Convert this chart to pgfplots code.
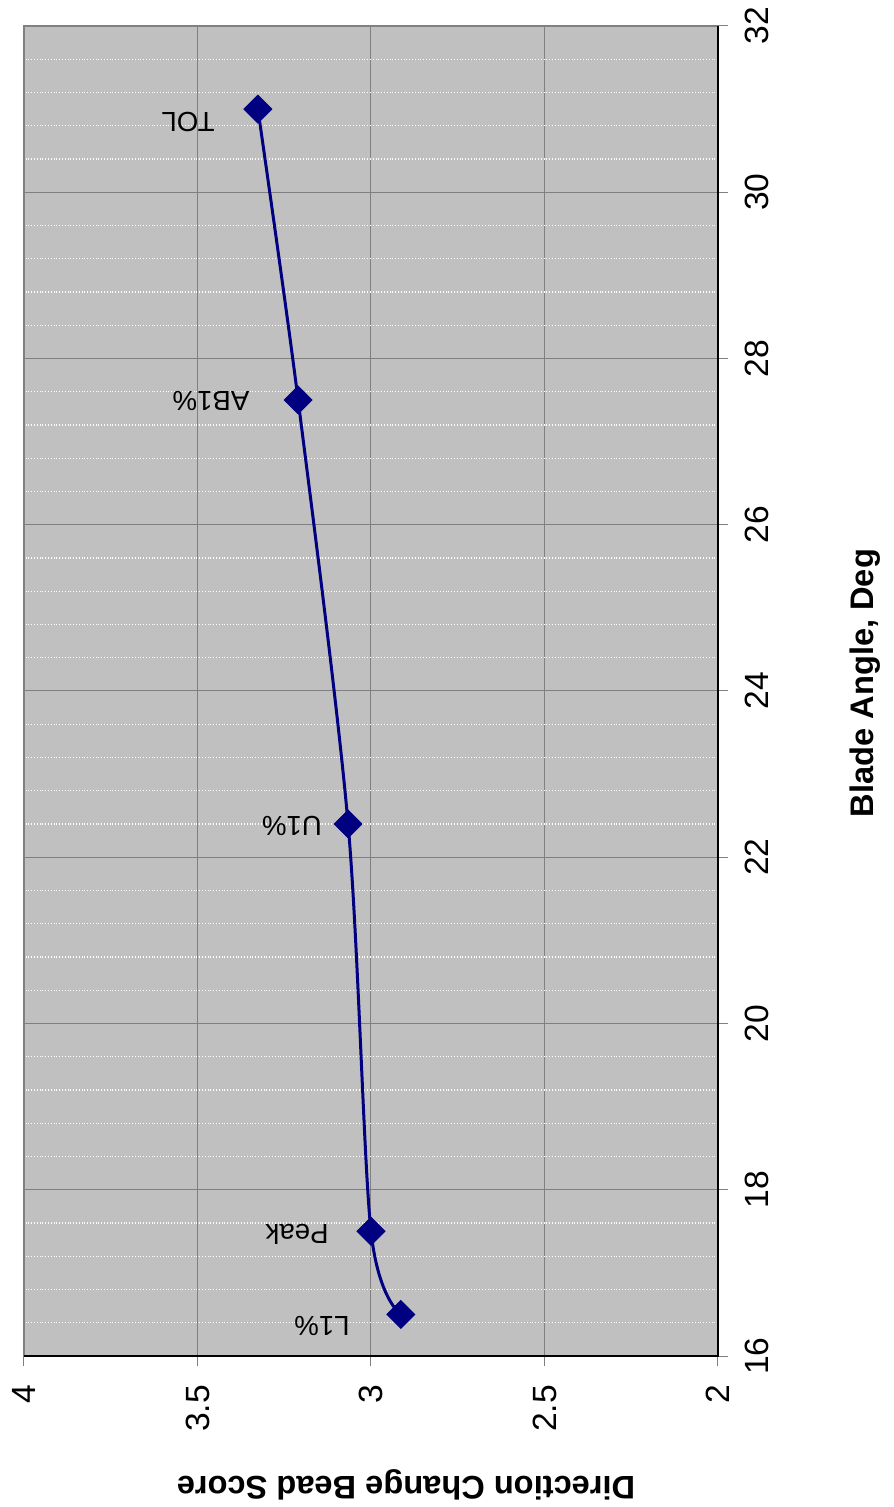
\documentclass[border=0pt]{standalone}
\usepackage{fontspec}
\setmainfont{Liberation Sans}
\usepackage{pgfplots}
\pgfplotsset{compat=1.18}
\definecolor{plotbg}{HTML}{C0C0C0}
\definecolor{gridgray}{HTML}{808080}
\definecolor{navyline}{HTML}{000080}
\begin{document}
\begin{tikzpicture}
\begin{axis}[
  scale only axis, width=347pt, height=665pt,
  xmin=2, xmax=4, ymin=16, ymax=32, x dir=reverse,
  xtick={2,2.5,3,3.5,4}, ytick={16,18,...,32},
  minor y tick num=4,
  xtick pos=left, ytick pos=right, yticklabel pos=right,
  tick align=outside, major tick length=5pt, minor tick length=0pt,
  xmajorgrids, ymajorgrids, yminorgrids,
  major grid style={gridgray, line width=0.5pt},
  minor grid style={white, densely dotted, line width=0.7pt},
  axis background/.style={fill=plotbg},
  axis line style={gridgray, line width=1pt},
  tick style={gridgray, line width=0.5pt},
  /pgf/number format/assume math mode=true,
  xticklabel shift=6pt, yticklabel shift=5pt,
  xticklabel style={rotate=90, anchor=east, font=\fontsize{16.8}{19}\selectfont},
  yticklabel style={rotate=90, anchor=north, font=\fontsize{16.8}{19}\selectfont},
]
\addplot[navyline, line width=1.5pt, smooth, mark=square*, mark size=4.9pt,
  mark options={rotate=45, fill=navyline, draw=navyline, line width=0.5pt}] table {
x y
2.914 16.5
3.000 17.5
3.066 22.4
3.210 27.5
3.326 31.0
};
\node[rotate=180, font=\fontsize{13.8}{16}\selectfont] at (axis cs:3.527,30.845) {TOL};
\node[rotate=180, font=\fontsize{13.8}{16}\selectfont] at (axis cs:3.461,27.489) {AB1\%};
\node[rotate=180, font=\fontsize{13.8}{16}\selectfont] at (axis cs:3.228,22.376) {U1\%};
\node[rotate=180, font=\fontsize{13.8}{16}\selectfont] at (axis cs:3.213,17.468) {Peak};
\node[rotate=180, font=\fontsize{13.8}{16}\selectfont] at (axis cs:3.141,16.361) {L1\%};
\end{axis}
\draw[black, line width=0.8pt] (current axis.south west) -- (current axis.south east) -- (current axis.north east);
\node[rotate=180, font=\bfseries\fontsize{16.3}{19}\selectfont] at ([xshift=17.5pt, yshift=-64.5pt]current axis.south) {Direction Change Bead Score};
\node[rotate=90, font=\bfseries\fontsize{16.3}{19}\selectfont] at ([xshift=73.5pt, yshift=4pt]current axis.east) {Blade Angle, Deg};
\pgfresetboundingbox
\path[use as bounding box] ([xshift=-12pt, yshift=-75.5pt]current axis.south west) rectangle ([xshift=87.5pt, yshift=13pt]current axis.north east);
\end{tikzpicture}
\end{document}
